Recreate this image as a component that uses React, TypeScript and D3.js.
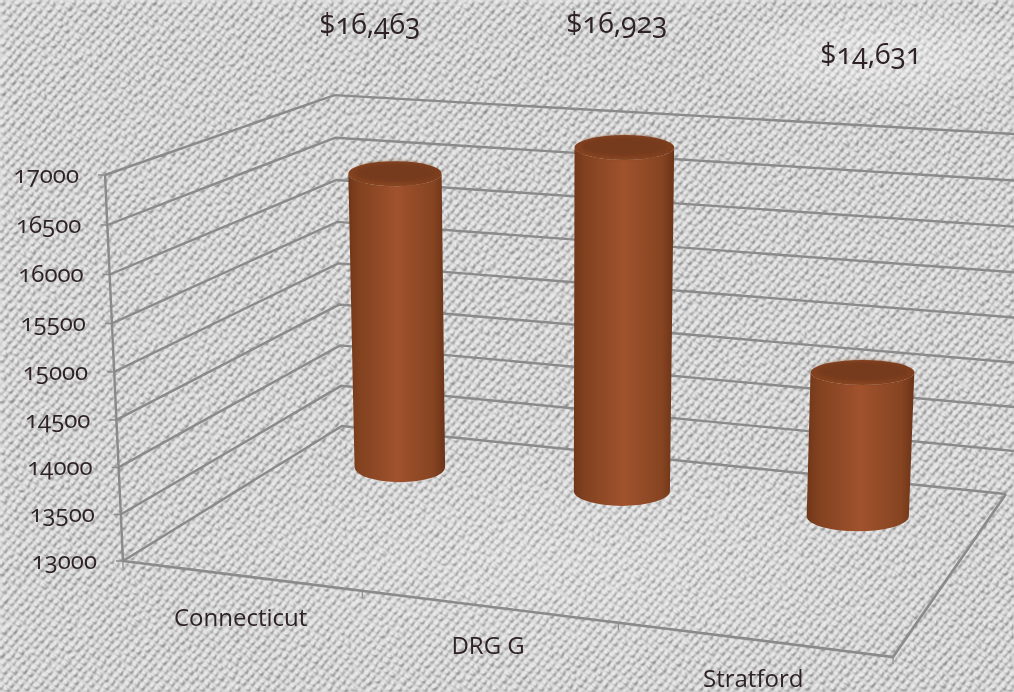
import React from "react";
import * as d3 from "d3";

// ---- data ----
const categories = ["Connecticut", "DRG G", "Stratford"];
const values = [16463, 16923, 14631];
const dataLabels = ["$16,463", "$16,923", "$14,631"];
const axisTicks = [13000, 13500, 14000, 14500, 15000, 15500, 16000, 16500, 17000];

// ---- layout ----
const W = 1014;
const H = 692;
const dataLabelPos: [number, number][] = [[370, 34], [617, 33], [871, 64]];
const categoryDy = [50, 47, 47.5];
const FONT_NUM = "'Open Sans', 'Noto Sans', sans-serif";
const TEXT = "#2e2226";
const GRID = "#8a8a8a";

// 3D projection (chart box -> screen), fitted to the box corners
const P = { a: 682.3, b: 279.3, c: 123, p: -22.2, d: 31.5, e: -59.9, f: 561, q: -393, g: -0.0982, h: 0.1764, r: -0.04 };
const project = (u: number, v: number, w: number): [number, number] => {
  const den = P.g * u + P.h * v + P.r * w + 1;
  return [(P.a * u + P.b * v + P.p * w + P.c) / den, (P.d * u + P.e * v + P.q * w + P.f) / den];
};

const wScale = d3.scaleLinear().domain([13000, 17000]).range([0, 1]);
const uScale = d3.scaleBand<string>().domain(categories).range([0, 1]);
const line = d3.line();

const BAR_DEPTH = 0.75;
const BAR_HALF = 0.07;
const BAR_HEADROOM = 0.98;
const RY_TOP = 12.5;
const RY_BOTTOM = 15;

function Cylinder({ cat, value }: { cat: string; value: number }) {
  const u = uScale(cat)! + uScale.bandwidth() / 2;
  const w = wScale(value) * BAR_HEADROOM;
  const [bc, by] = project(u, BAR_DEPTH, 0);
  const [tc, ty] = project(u, BAR_DEPTH, w);
  const brx = (project(u + BAR_HALF, BAR_DEPTH, 0)[0] - project(u - BAR_HALF, BAR_DEPTH, 0)[0]) / 2;
  const trx = (project(u + BAR_HALF, BAR_DEPTH, w)[0] - project(u - BAR_HALF, BAR_DEPTH, w)[0]) / 2;
  const body = `M${tc - trx},${ty} L${bc - brx},${by} A${brx},${RY_BOTTOM} 0 0 0 ${bc + brx},${by} L${tc + trx},${ty} A${trx},${RY_TOP} 0 0 1 ${tc - trx},${ty} Z`;
  return (
    <g>
      <path d={body} fill="url(#barSide)" />
      <ellipse cx={tc} cy={ty} rx={trx} ry={RY_TOP} fill="url(#barRim)" />
      <ellipse cx={tc} cy={ty - 1} rx={trx - 6} ry={RY_TOP - 2} fill="#763a1e" filter="url(#soft)" />
    </g>
  );
}

export default function App() {
  return (
    <svg width={W} height={H} viewBox={`0 0 ${W} ${H}`} style={{ position: "fixed", left: 0, top: 0, display: "block" }}>
      <defs>
        <pattern id="weave" width={10} height={9} patternUnits="userSpaceOnUse" patternTransform="rotate(-7)">
          <circle cx={2.5} cy={2.25} r={1.9} fill="#000" />
          <circle cx={7.5} cy={6.75} r={1.9} fill="#000" />
        </pattern>
        <filter id="tex" x="0" y="0" width="100%" height="100%" colorInterpolationFilters="sRGB">
          <feTurbulence type="fractalNoise" baseFrequency="0.13" numOctaves={2} seed={7} result="n" />
          <feDisplacementMap in="SourceAlpha" in2="n" scale={5} xChannelSelector="R" yChannelSelector="G" result="d" />
          <feGaussianBlur in="d" stdDeviation="1.2" />
          <feDiffuseLighting surfaceScale={1.6} diffuseConstant={1.0} lightingColor="#f6f6f6">
            <feDistantLight azimuth={235} elevation={62} />
          </feDiffuseLighting>
        </filter>
        <filter id="soft" x="-20%" y="-40%" width="140%" height="180%">
          <feGaussianBlur stdDeviation="2" />
        </filter>
        <linearGradient id="barSide" x1="0" x2="1" y1="0" y2="0">
          <stop offset="0" stopColor="#703619" />
          <stop offset="0.1" stopColor="#81411f" />
          <stop offset="0.5" stopColor="#a0522d" />
          <stop offset="0.88" stopColor="#864421" />
          <stop offset="1" stopColor="#6a3318" />
        </linearGradient>
        <linearGradient id="barRim" x1="0" x2="1" y1="0" y2="0">
          <stop offset="0" stopColor="#83411f" />
          <stop offset="0.5" stopColor="#8c4823" />
          <stop offset="1" stopColor="#7d3d1d" />
        </linearGradient>
        <radialGradient id="glow" cx="0.5" cy="0.5" r="0.5">
          <stop offset="0" stopColor="#fff" stopOpacity="0.4" />
          <stop offset="1" stopColor="#fff" stopOpacity="0" />
        </radialGradient>
      </defs>

      <rect width={W} height={H} fill="url(#weave)" filter="url(#tex)" />
      <rect width={W} height={H} fill="#d8d8d8" opacity={0.4} />
      <ellipse cx={880} cy={55} rx={170} ry={55} fill="url(#glow)" />
      <ellipse cx={560} cy={560} rx={420} ry={130} fill="url(#glow)" opacity={0.4} />

      {/* walls */}
      <g fill="none" stroke={GRID} strokeWidth={2.4}>
        {axisTicks.map((t) => {
          const w = wScale(t);
          const [bx, by] = project(1, 1, w);
          const [bx0, by0] = project(0, 1, w);
          const slope = (by - by0) / (bx - bx0);
          const end: [number, number] = w > 0 ? [W + 10, by + slope * (W + 10 - bx)] : [bx, by];
          return <path key={t} d={line([project(0, 0, w), project(0, 1, w), end])!} />;
        })}
        <path d={line([project(0, 0, 0), project(0, 0, 1)])!} />
        {axisTicks.map((t) => {
          const [x, y] = project(0, 0, wScale(t));
          return <path key={t} d={line([[x - 7, y], [x, y]])!} strokeWidth={1.5} />;
        })}
      </g>

      {/* floor edges */}
      <g fill="none" stroke={GRID} strokeWidth={2.6}>
        <path d={line([project(0, 0, 0), project(1, 0, 0), project(1, 1, 0)])!} />
        {d3.range(0, 4).map((k) => {
          const [x, y] = project(k / 3, 0, 0);
          return <path key={k} d={line([[x, y], [x, y + 7]])!} strokeWidth={1.2} />;
        })}
      </g>

      {categories.map((c, i) => (
        <Cylinder key={c} cat={c} value={values[i]} />
      ))}

      <g fill={TEXT} fontFamily={FONT_NUM} style={{ fontFeatureSettings: "'onum' 1" }}>
        {axisTicks.map((t) => {
          const [x, y] = project(0, 0, wScale(t));
          return (
            <text key={t} x={x - 26} y={y + 8} textAnchor="end" fontSize={24}>
              {t}
            </text>
          );
        })}
        {dataLabels.map((l, i) => (
          <text key={l} x={dataLabelPos[i][0]} y={dataLabelPos[i][1]} textAnchor="middle" fontSize={28.5}>
            {l}
          </text>
        ))}
      </g>

      <g fill={TEXT} fontFamily="'Open Sans', sans-serif" fontSize={24}>
        {categories.map((c, i) => {
          const [x, y] = project(uScale(c)! + uScale.bandwidth() / 2, 0, 0);
          return (
            <text key={c} x={x} y={y + categoryDy[i]} textAnchor="middle">
              {c}
            </text>
          );
        })}
      </g>
    </svg>
  );
}
